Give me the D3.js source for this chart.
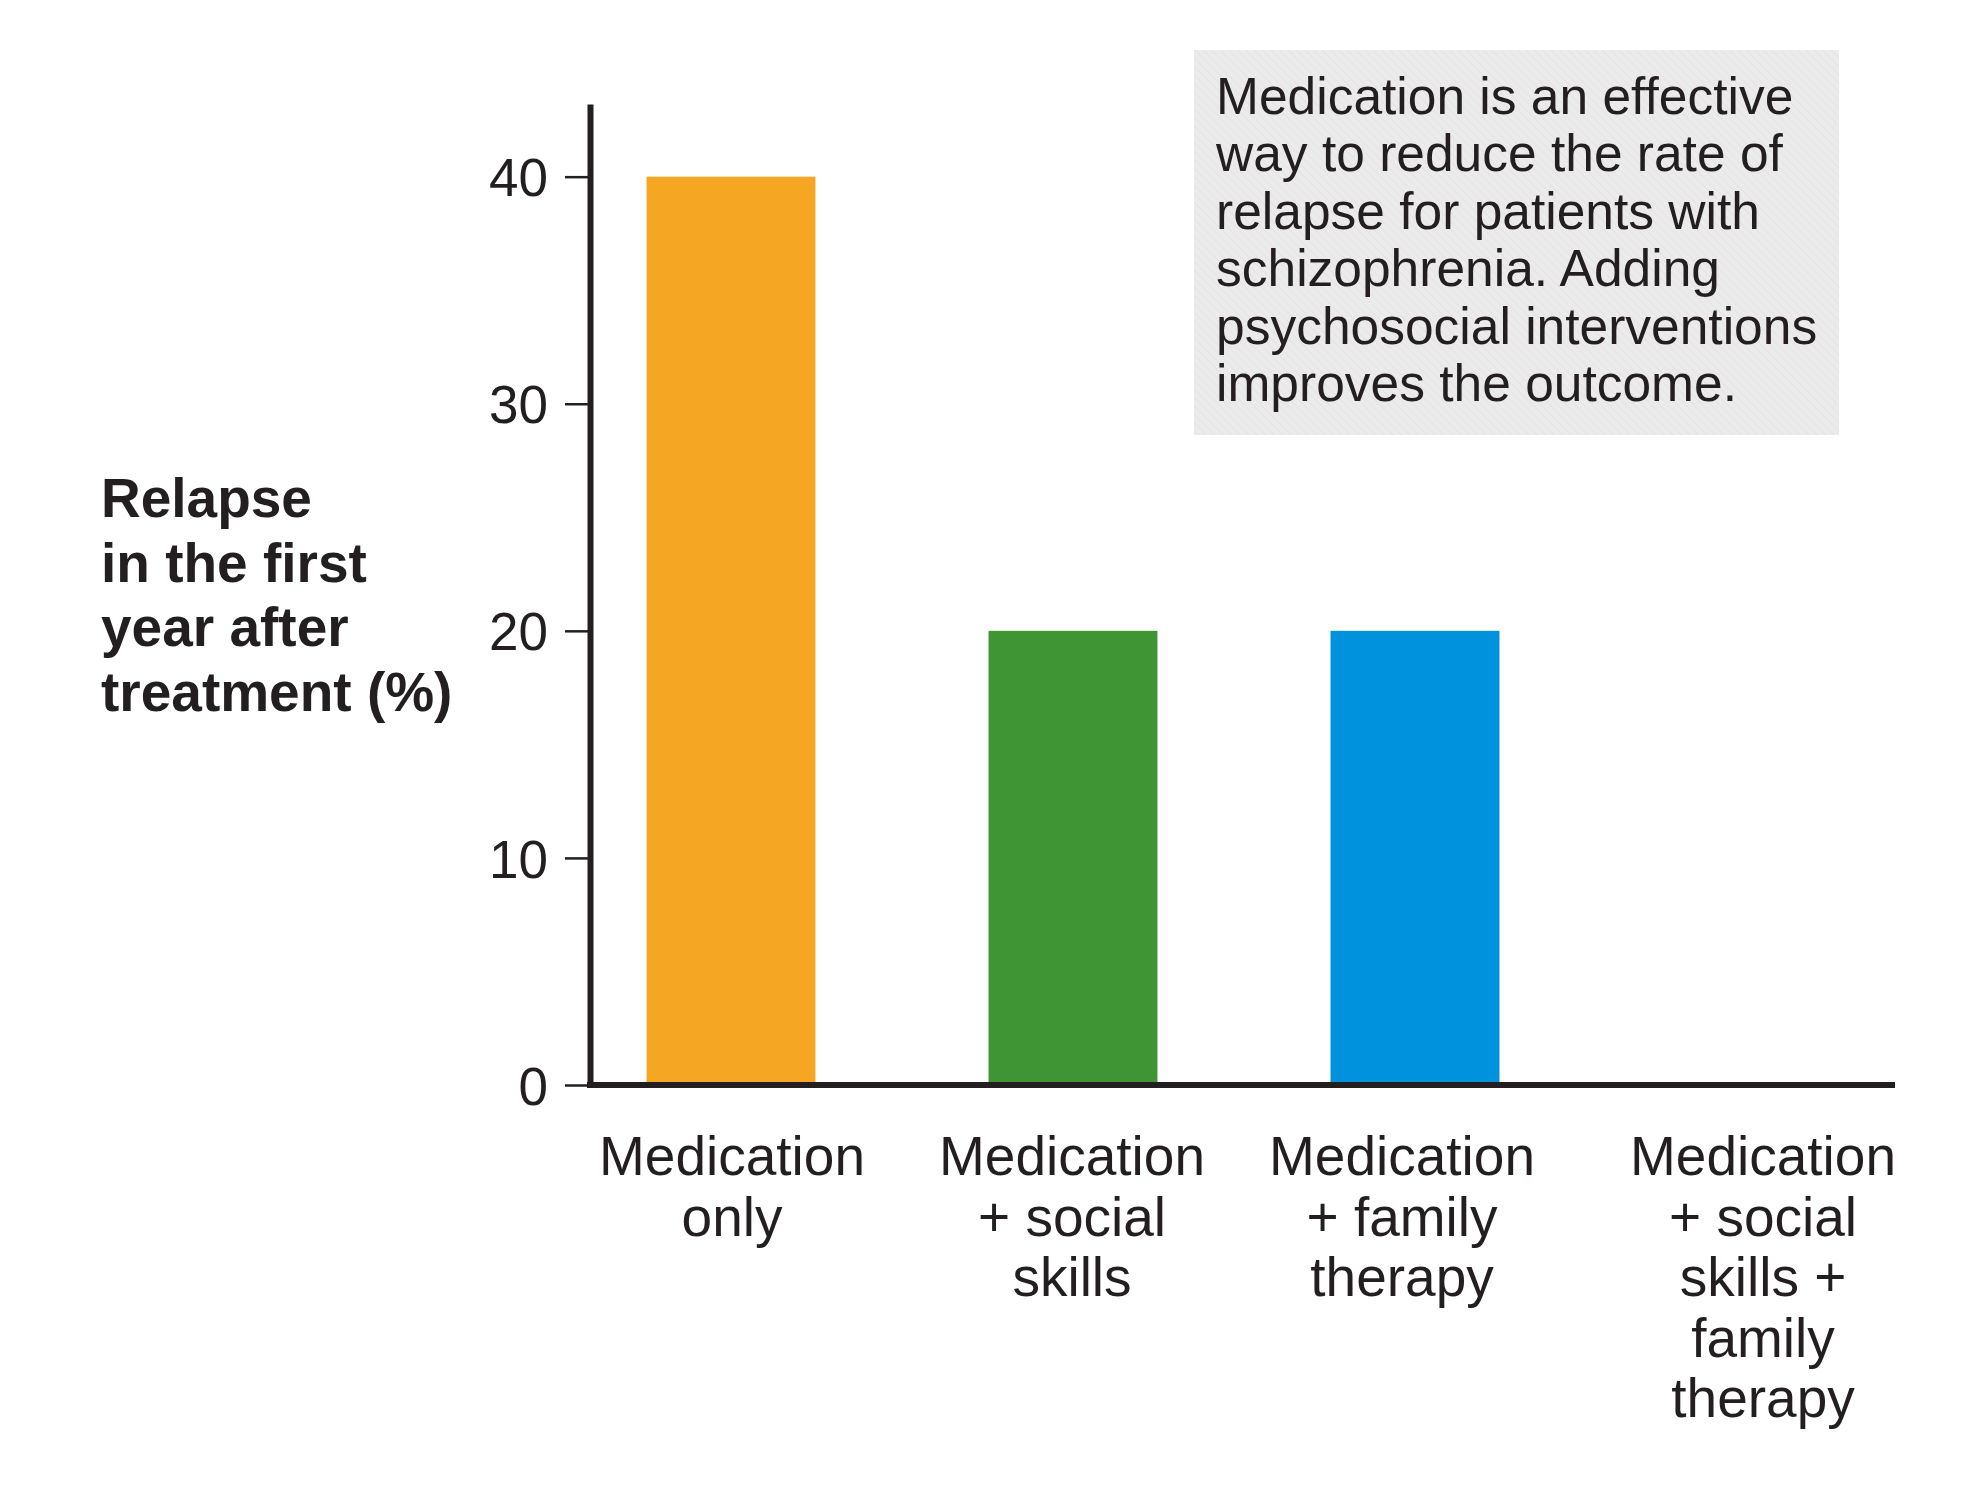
<!DOCTYPE html>
<html>
<head>
<meta charset="utf-8">
<script src="https://cdn.jsdelivr.net/npm/d3@7"></script>
<style>
  html, body { margin: 0; padding: 0; background: #fff; }
  svg { display: block; }
</style>
</head>
<body>
<svg id="chart"></svg>
<script>
// Chart data
const categories = [
  'Medication only',
  'Medication + social skills',
  'Medication + family therapy',
  'Medication + social skills + family therapy'
];
const categoryLines = [
  ['Medication', 'only'],
  ['Medication', '+ social', 'skills'],
  ['Medication', '+ family', 'therapy'],
  ['Medication', '+ social', 'skills +', 'family', 'therapy']
];
const relapse = [40, 20, 20, 0];
const barColors = ['#f5a623', '#3f9433', '#0092dd', '#999999'];
const yTicks = [0, 10, 20, 30, 40];
const yLabelLines = ['Relapse', 'in the first', 'year after', 'treatment (%)'];
const noteLines = [
  'Medication is an effective',
  'way to reduce the rate of',
  'relapse for patients with',
  'schizophrenia. Adding',
  'psychosocial interventions',
  'improves the outcome.'
];

const W = 1980, H = 1489;
const ink = '#231f20';
const font = '"Liberation Sans", Arial, Helvetica, sans-serif';
// small nudges so the labels sit where the original typesetter put them
const labelShift = [1, -1, -13, 6];

const svg = d3.select('#chart').attr('width', W).attr('height', H);

// Scales
const x = d3.scaleBand()
  .domain(categories)
  .range([560, 1928])
  .paddingInner(0.506)
  .paddingOuter(0.253);

const y = d3.scaleLinear()
  .domain([0, 43.2])
  .range([1085, 104]);

const axisX0 = 590, axisX1 = 1895;

// Annotation box
const defs = svg.append('defs');
const pat = defs.append('pattern')
  .attr('id', 'hatch')
  .attr('width', 6).attr('height', 6)
  .attr('patternUnits', 'userSpaceOnUse')
  .attr('patternTransform', 'rotate(-45)');
pat.append('rect').attr('width', 6).attr('height', 6).attr('fill', '#ebebeb');
pat.append('line').attr('x1', 0).attr('y1', 0).attr('x2', 0).attr('y2', 6)
  .attr('stroke', '#e4e4e4').attr('stroke-width', 2);

const note = svg.append('g').attr('transform', 'translate(1194,50)');

note.append('rect')
  .attr('width', 645)
  .attr('height', 385)
  .attr('fill', 'url(#hatch)');

note.append('text')
  .attr('font-family', font)
  .attr('font-size', '51.5px')
  .attr('fill', ink)
  .selectAll('tspan')
  .data(noteLines)
  .enter()
  .append('tspan')
  .attr('x', 22)
  .attr('y', (d, i) => 64 + i * 57.4)
  .text(d => d);

// Bars
svg.selectAll('.bar')
  .data(relapse)
  .enter()
  .append('rect')
  .attr('class', 'bar')
  .attr('x', (d, i) => x(categories[i]))
  .attr('width', x.bandwidth())
  .attr('y', d => y(d))
  .attr('height', d => y(0) - y(d))
  .attr('fill', (d, i) => barColors[i]);

// Y axis
const yAxis = svg.append('g')
  .attr('transform', `translate(${axisX0},0)`)
  .call(d3.axisLeft(y).tickValues(yTicks).tickSize(25).tickSizeOuter(0).tickPadding(17));

yAxis.select('.domain')
  .attr('stroke', ink)
  .attr('stroke-width', 6);

yAxis.selectAll('.tick line')
  .attr('stroke', ink)
  .attr('stroke-width', 2.5);

yAxis.selectAll('.tick text')
  .attr('font-family', font)
  .attr('font-size', '53px')
  .attr('fill', ink)
  .attr('dy', '0.36em');

// X axis baseline
svg.append('line')
  .attr('x1', axisX0 - 3)
  .attr('x2', axisX1)
  .attr('y1', y(0))
  .attr('y2', y(0))
  .attr('stroke', ink)
  .attr('stroke-width', 6);

// Category labels
const xAxis = svg.append('g')
  .attr('transform', `translate(0,${y(0)})`)
  .call(d3.axisBottom(x).tickSize(0).tickFormat(''));

xAxis.select('.domain').remove();

xAxis.selectAll('.tick text')
  .attr('font-family', font)
  .attr('font-size', '55px')
  .attr('fill', ink)
  .attr('y', 0)
  .attr('dy', null)
  .each(function(d, i) {
    d3.select(this).selectAll('tspan')
      .data(categoryLines[i])
      .enter()
      .append('tspan')
      .attr('x', labelShift[i])
      .attr('y', (t, j) => 90 + j * 60.5)
      .text(t => t);
  });

// Y axis title
svg.append('text')
  .attr('font-family', font)
  .attr('font-size', '55px')
  .attr('font-weight', 'bold')
  .attr('fill', ink)
  .selectAll('tspan')
  .data(yLabelLines)
  .enter()
  .append('tspan')
  .attr('x', 101)
  .attr('y', (d, i) => 517 + i * 64.5)
  .text(d => d);
</script>
</body>
</html>
